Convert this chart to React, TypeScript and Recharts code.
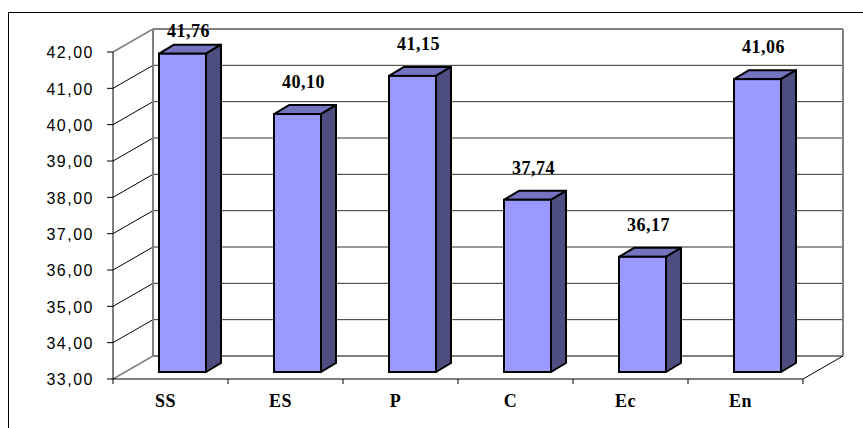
import React from 'react';
import { BarChart, Bar, XAxis, YAxis, CartesianGrid } from 'recharts';

const categories = ['SS', 'ES', 'P', 'C', 'Ec', 'En'];
const scores = [41.76, 40.1, 41.15, 37.74, 36.17, 41.06];
const yTicks = [33, 34, 35, 36, 37, 38, 39, 40, 41, 42];

const data = categories.map((name, i) => ({ name, value: scores[i] }));

const CHART_W = 863;
const CHART_H = 428;
const MARGIN = { top: 52, right: 60, bottom: 19, left: 53 };
const Y_AXIS_W = 60;
const X_AXIS_H = 30;
const PLOT_TOP = MARGIN.top;
const PLOT_BOTTOM = CHART_H - MARGIN.bottom - X_AXIS_H;

// depth of the back wall and of each column (oblique projection)
const WALL_X = 40;
const WALL_Y = 23;
const BAR_OFF_X = 12;
const BAR_OFF_Y = 7;
const BAR_DX = 15;
const BAR_DY = 9;

const EDGE = '#808080';
const FRONT = '#9999FF';
const TOP = '#7373BF';
const SIDE = '#4D4D80';

const SERIF_BOLD = {
  fontFamily: 'Liberation Serif, Times New Roman, serif',
  fontSize: 18,
  fontWeight: 700,
  letterSpacing: 0.5,
};

const fmt = (v: number) => v.toFixed(2).replace('.', ',');

// walls, floor and grid drawn from each horizontal grid line
const WallLine = (props: any) => {
  const { x1, x2, y1, index } = props;
  const isTop = Math.abs(y1 - PLOT_TOP) < 1;
  const isBottom = Math.abs(y1 - PLOT_BOTTOM) < 1;
  const edge = isTop || isBottom;
  const bx1 = x1 + WALL_X;
  const bx2 = x2 + WALL_X;
  const by = y1 - WALL_Y;
  const n = categories.length;
  return (
    <g key={`wall-${index}`}>
      <line x1={x1} y1={y1} x2={bx1} y2={by} stroke={edge ? EDGE : '#000'} strokeWidth={edge ? 1.5 : 1} />
      <line x1={bx1} y1={by} x2={bx2} y2={by} stroke={edge ? EDGE : '#333'} strokeWidth={edge ? 2 : 1} />
      {isTop && (
        <>
          <line x1={bx1} y1={by} x2={bx1} y2={PLOT_BOTTOM - WALL_Y} stroke={EDGE} strokeWidth={2} />
          <line x1={bx2} y1={by} x2={bx2} y2={PLOT_BOTTOM - WALL_Y} stroke={EDGE} strokeWidth={2} />
        </>
      )}
      {isBottom && (
        <>
          <line x1={x2} y1={y1} x2={bx2} y2={by} stroke="#000" strokeWidth={1} />
          {Array.from({ length: n + 1 }, (_, i) => {
            const tx = x1 + (i * (x2 - x1)) / n;
            return <line key={`xt-${i}`} x1={tx} y1={y1} x2={tx} y2={y1 + 5} stroke="#000" strokeWidth={1} />;
          })}
        </>
      )}
    </g>
  );
};

const YTick = (props: any) => {
  const { x, y, payload } = props;
  return (
    <text
      x={x}
      y={y}
      dy={6.3}
      textAnchor="end"
      fill="#000"
      style={{ fontFamily: 'Liberation Sans, Arial, sans-serif', fontSize: 16, letterSpacing: 1.5 }}
    >
      {fmt(payload.value)}
    </text>
  );
};

const XTick = (props: any) => {
  const { x, y, payload } = props;
  return (
    <text x={x - 5} y={y + 28} textAnchor="middle" fill="#000" style={SERIF_BOLD}>
      {payload.value}
    </text>
  );
};

const Column3D = (props: any) => {
  const { x, y, width, height, payload } = props;
  const fx = x + BAR_OFF_X;
  const fy = y - BAR_OFF_Y;
  const fb = fy + height;
  const fr = fx + width;
  const labelY = Math.max(fy - 26, PLOT_TOP - 15);
  return (
    <g>
      <polygon
        points={`${fx},${fy} ${fx + BAR_DX},${fy - BAR_DY} ${fr + BAR_DX},${fy - BAR_DY} ${fr},${fy}`}
        fill={TOP}
        stroke="#000"
        strokeWidth={2}
        strokeLinejoin="round"
      />
      <polygon
        points={`${fr},${fy} ${fr + BAR_DX},${fy - BAR_DY} ${fr + BAR_DX},${fb - BAR_DY} ${fr},${fb}`}
        fill={SIDE}
        stroke="#000"
        strokeWidth={2}
        strokeLinejoin="round"
      />
      <rect x={fx} y={fy} width={width} height={height} fill={FRONT} stroke="#000" strokeWidth={2} />
      <text x={fx + width / 2 + 6} y={labelY} textAnchor="middle" fill="#000" style={SERIF_BOLD}>
        {fmt(payload.value)}
      </text>
    </g>
  );
};

export default function App() {
  return (
    <div
      style={{
        position: 'fixed',
        left: 0,
        top: 0,
        width: CHART_W,
        height: CHART_H,
        overflow: 'hidden',
        background: '#fff',
      }}
    >
      {/* outer chart frame */}
      <div
        style={{
          position: 'absolute',
          left: 8,
          top: 12,
          width: 900,
          height: 500,
          border: '1px solid #000',
        }}
      />
      <div style={{ position: 'absolute', left: 0, top: 0 }}>
        <BarChart width={CHART_W} height={CHART_H} data={data} margin={MARGIN} barSize={47}>
          <CartesianGrid vertical={false} horizontal={WallLine} />
          <XAxis
            dataKey="name"
            height={X_AXIS_H}
            axisLine={{ stroke: '#000', strokeWidth: 1 }}
            tickLine={false}
            tickSize={0}
            tickMargin={0}
            tick={XTick}
            interval={0}
          />
          <YAxis
            width={Y_AXIS_W}
            domain={[33, 42]}
            ticks={yTicks}
            axisLine={{ stroke: '#000', strokeWidth: 1 }}
            tickLine={{ stroke: '#000', strokeWidth: 1 }}
            tickSize={6}
            tickMargin={13}
            tick={YTick}
            interval={0}
          />
          <Bar dataKey="value" shape={Column3D} isAnimationActive={false} />
        </BarChart>
      </div>
    </div>
  );
}
